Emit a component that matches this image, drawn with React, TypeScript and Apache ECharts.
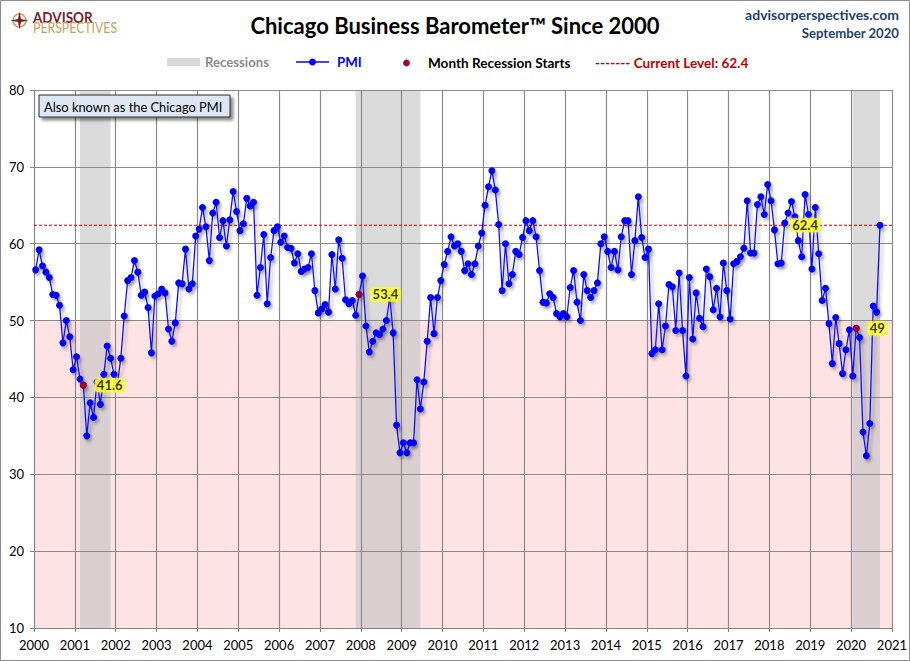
import React, { useEffect, useRef } from "react";
import * as echarts from "echarts";

// ---- data ----
const firstYear = 2000;
const yearTickCount = 21; // 2000 .. 2021
const pmi2000 = [56.6, 59.2, 57.1, 56.3, 55.6, 53.4, 53.3, 52.0, 47.1, 50.0, 47.9, 43.6];
const pmi2001 = [45.3, 42.4, 41.6, 35.0, 39.3, 37.4, 42.0, 39.1, 43.0, 46.7, 45.1, 43.0];
const pmi2002 = [41.8, 45.1, 50.6, 55.2, 55.6, 57.8, 56.3, 53.3, 53.7, 51.7, 45.8, 53.2];
const pmi2003 = [53.5, 54.1, 53.6, 48.9, 47.3, 49.7, 54.9, 54.8, 59.3, 54.1, 54.8, 61.0];
const pmi2004 = [61.9, 64.7, 62.2, 57.8, 64.0, 65.4, 60.8, 63.0, 59.7, 63.1, 66.8, 64.2];
const pmi2005 = [61.7, 62.6, 65.9, 64.9, 65.4, 53.3, 56.9, 61.2, 52.2, 58.2, 61.7, 62.2];
const pmi2006 = [60.2, 61.0, 59.5, 59.4, 57.5, 58.7, 56.4, 56.7, 56.9, 58.7, 53.9, 51.0];
const pmi2007 = [51.5, 52.1, 51.1, 58.6, 54.1, 60.5, 58.1, 52.7, 52.2, 52.6, 50.7, 53.4];
const pmi2008 = [55.8, 49.3, 45.9, 47.3, 48.4, 48.2, 48.9, 50.0, 53.0, 48.4, 36.4, 32.8];
const pmi2009 = [34.1, 32.8, 34.1, 34.1, 42.3, 38.5, 42.0, 47.3, 53.0, 48.3, 53.0, 55.2];
const pmi2010 = [57.3, 59.0, 60.9, 59.7, 60.0, 59.0, 56.5, 57.4, 56.0, 57.4, 59.7, 61.4];
const pmi2011 = [65.0, 67.4, 69.5, 67.0, 62.5, 53.9, 60.0, 54.8, 56.0, 59.0, 58.6, 60.8];
const pmi2012 = [63.0, 61.7, 63.0, 60.9, 56.5, 52.4, 52.3, 53.5, 53.0, 50.9, 50.5, 50.9];
const pmi2013 = [50.5, 54.3, 56.5, 52.4, 50.0, 56.0, 53.9, 53.0, 53.9, 54.9, 60.0, 60.9];
const pmi2014 = [59.0, 56.9, 59.0, 56.6, 60.9, 63.0, 63.0, 56.0, 60.4, 66.1, 60.8, 58.2];
const pmi2015 = [59.3, 45.7, 46.2, 52.2, 46.2, 49.3, 54.7, 54.4, 48.7, 56.2, 48.7, 42.8];
const pmi2016 = [55.6, 47.6, 53.6, 50.3, 49.2, 56.7, 55.7, 51.4, 54.2, 50.5, 57.5, 53.9];
const pmi2017 = [50.2, 57.4, 57.7, 58.3, 59.4, 65.6, 58.8, 58.8, 65.1, 66.1, 63.8, 67.7];
const pmi2018 = [65.6, 61.8, 57.4, 57.5, 62.7, 64.0, 65.5, 63.5, 60.4, 58.3, 66.4, 63.8];
const pmi2019 = [56.7, 64.7, 58.7, 52.6, 54.2, 49.6, 44.4, 50.4, 47.0, 43.1, 46.2, 48.8];
const pmi2020 = [42.8, 49.0, 47.8, 35.5, 32.4, 36.6, 51.9, 51.1, 62.4];

const recessionStarts = ["2001-03", "2007-12", "2020-02"];
const recessionEnds = ["2001-11", "2009-06", "2020-09"];
const contractionFloor = 10;
const contractionCeiling = 50;
const currentLevel = 62.4;
const currentLevelLabelMonth = "2018-11";

// ---- helpers ----
const pmi = [
  ...pmi2000, ...pmi2001, ...pmi2002, ...pmi2003, ...pmi2004, ...pmi2005, ...pmi2006,
  ...pmi2007, ...pmi2008, ...pmi2009, ...pmi2010, ...pmi2011, ...pmi2012, ...pmi2013,
  ...pmi2014, ...pmi2015, ...pmi2016, ...pmi2017, ...pmi2018, ...pmi2019, ...pmi2020,
];
const monthIndex = (ym: string) => {
  const [y, m] = ym.split("-").map(Number);
  return (y - firstYear) * 12 + (m - 1);
};
const monthX = (i: number) => i + 0.5; // plot each month mid-month

const FONT = "Lato, 'Open Sans', sans-serif";

export default function App() {
  const ref = useRef<HTMLDivElement>(null);

  useEffect(() => {
    document.body.style.margin = "0";
    const chart = echarts.init(ref.current!, undefined, { renderer: "svg" });

    const axisMax = yearTickCount * 12;
    const pmiData = pmi.map((v, i) => [monthX(i), v]);
    const startDots = recessionStarts.map((s) => {
      const i = monthIndex(s);
      return [monthX(i), pmi[i]];
    });
    const recessionAreas = recessionStarts.map((s, k) => [
      { xAxis: monthIndex(s) - 0.5, itemStyle: { color: "rgba(196,196,196,0.62)" } },
      { xAxis: monthIndex(recessionEnds[k]) + 0.5 },
    ]);

    const labelStyle = {
      show: true,
      color: "#000",
      fontFamily: FONT,
      fontWeight: "bold" as const,
      fontSize: 13,
      backgroundColor: "#ffff33",
      padding: [1, 2, 0, 2],
      borderRadius: 3,
      shadowColor: "rgba(255,255,0,0.8)",
      shadowBlur: 3,
    };

    const option: any = {
      animation: false,
      grid: { left: 34, right: 17, top: 90, bottom: 33 },
      xAxis: {
        type: "value",
        min: 0,
        max: axisMax,
        interval: 12,
        z: 3,
        axisLine: { show: true, lineStyle: { color: "#858585", width: 1 } },
        axisTick: { show: true, length: 4, lineStyle: { color: "#858585" } },
        axisLabel: {
          color: "#000",
          fontFamily: FONT,
          fontSize: 13,
          margin: 10,
          formatter: (v: number) => String(firstYear + Math.round(v / 12)),
        },
        splitLine: { show: true, lineStyle: { color: "#8a8a8a", width: 1.2 } },
      },
      yAxis: {
        type: "value",
        min: 10,
        max: 80,
        interval: 10,
        z: 3,
        axisLine: { show: true, lineStyle: { color: "#858585", width: 1 } },
        axisTick: { show: true, length: 4, lineStyle: { color: "#858585" } },
        axisLabel: { color: "#000", fontFamily: FONT, fontSize: 13, margin: 10 },
        splitLine: { show: true, lineStyle: { color: "#8a8a8a", width: 1.2 } },
      },
      series: [
        {
          type: "line",
          name: "shading",
          z: 1,
          silent: true,
          data: [[0, contractionFloor]],
          showSymbol: false,
          lineStyle: { width: 0, opacity: 0 },
          markArea: {
            silent: true,
            label: { show: false },
            data: [
              [
                { yAxis: contractionFloor, itemStyle: { color: "#ffe3e4" } },
                { yAxis: contractionCeiling },
              ],
              ...recessionAreas,
            ],
          },
        },
        {
          type: "line",
          name: "Current Level",
          z: 4,
          silent: true,
          data: [[0, currentLevel], [axisMax, currentLevel]],
          showSymbol: false,
          symbol: "none",
          itemStyle: { color: "#c00000" },
          lineStyle: { color: "#c00000", type: [3, 2], width: 1.1 },
        },
        {
          type: "line",
          name: "PMI",
          z: 5,
          data: pmiData,
          symbol: "circle",
          symbolSize: 7,
          showSymbol: true,
          itemStyle: {
            color: "#0000ff",
            shadowColor: "rgba(0,0,0,0.25)",
            shadowBlur: 3,
            shadowOffsetX: 2,
            shadowOffsetY: 3,
          },
          lineStyle: {
            color: "#1010ff",
            width: 1.3,
            shadowColor: "rgba(0,0,0,0.28)",
            shadowBlur: 3,
            shadowOffsetX: 3,
            shadowOffsetY: 3,
          },
        },
        {
          type: "scatter",
          name: "Month Recession Starts",
          z: 6,
          data: startDots,
          symbolSize: 7,
          itemStyle: { color: "#c00000" },
          label: {
            ...labelStyle,
            position: "right",
            distance: 8,
            formatter: (p: any) => String(p.value[1]),
          },
        },
        {
          type: "scatter",
          name: "Current Level label",
          z: 6,
          data: [[monthX(monthIndex(currentLevelLabelMonth)), currentLevel]],
          symbolSize: 1,
          itemStyle: { color: "rgba(0,0,0,0)" },
          label: {
            ...labelStyle,
            position: "inside",
            formatter: () => currentLevel.toFixed(1),
          },
        },
      ],
      graphic: [
        {
          type: "rect",
          shape: { x: 0.5, y: 0.5, width: 909, height: 660 },
          style: { fill: "none", stroke: "#8c8c8c", lineWidth: 1 },
          z: 100,
        },
        // logo
        {
          type: "circle",
          shape: { cx: 19.5, cy: 20.5, r: 6.5 },
          style: { fill: "none", stroke: "#c9a35e", lineWidth: 1.6 },
        },
        {
          type: "polygon",
          shape: {
            points: [
              [19.5, 11.5], [21, 19], [28.5, 20.5], [21, 22], [19.5, 29.5], [18, 22], [10.5, 20.5], [18, 19],
            ],
          },
          style: { fill: "#7b1c2c" },
        },
        {
          type: "text",
          x: 33,
          y: 17,
          scaleX: 0.9,
          style: { text: "ADVISOR", font: `bold 15px ${FONT}`, fill: "#7b1c2c", textVerticalAlign: "middle" },
        },
        {
          type: "text",
          x: 33,
          y: 27,
          scaleX: 0.82,
          style: { text: "PERSPECTIVES", font: `15px ${FONT}`, fill: "#c6a05b", textVerticalAlign: "middle" },
        },
        // title
        {
          type: "text",
          x: 455,
          y: 25,
          style: {
            text: "Chicago Business Barometer™ Since 2000",
            font: `bold 22px ${FONT}`,
            fill: "#000",
            textAlign: "center",
            textVerticalAlign: "middle",
          },
        },
        {
          type: "text",
          x: 899,
          y: 14,
          style: {
            text: "advisorperspectives.com",
            font: `bold 14px ${FONT}`,
            fill: "#243f73",
            textAlign: "right",
            textVerticalAlign: "middle",
          },
        },
        {
          type: "text",
          x: 899,
          y: 33,
          scaleX: 0.94,
          style: {
            text: "September 2020",
            font: `bold 14px ${FONT}`,
            fill: "#243f73",
            textAlign: "right",
            textVerticalAlign: "middle",
          },
        },
        // legend
        {
          type: "rect",
          shape: { x: 167, y: 58, width: 33, height: 8 },
          style: { fill: "#d9d9d9" },
        },
        {
          type: "text",
          x: 205,
          y: 62,
          scaleX: 0.94,
          style: { text: "Recessions", font: `bold 14px ${FONT}`, fill: "#8a8a8a", textVerticalAlign: "middle" },
        },
        {
          type: "line",
          shape: { x1: 296, y1: 62, x2: 329, y2: 62 },
          style: { stroke: "#0000ff", lineWidth: 1.3 },
        },
        {
          type: "circle",
          shape: { cx: 312.5, cy: 62, r: 3.5 },
          style: { fill: "#0000ff" },
        },
        {
          type: "text",
          x: 337,
          y: 62,
          scaleX: 0.95,
          style: { text: "PMI", font: `bold 14px ${FONT}`, fill: "#0000ff", textVerticalAlign: "middle" },
        },
        {
          type: "circle",
          shape: { cx: 406.5, cy: 63, r: 3.2 },
          style: { fill: "#c00000", stroke: "#3030a0", lineWidth: 0.6 },
        },
        {
          type: "text",
          x: 428,
          y: 62,
          scaleX: 0.97,
          style: { text: "Month Recession Starts", font: `bold 14px ${FONT}`, fill: "#000", textVerticalAlign: "middle" },
        },
        {
          type: "text",
          x: 595,
          y: 62,
          scaleX: 0.97,
          style: {
            text: "------- Current Level: 62.4",
            font: `bold 14px ${FONT}`,
            fill: "#c00000",
            textVerticalAlign: "middle",
          },
        },
        // annotation box
        {
          type: "rect",
          shape: { x: 39, y: 95, width: 191, height: 22 },
          style: {
            fill: "#dde7f3",
            stroke: "#2a2a2a",
            lineWidth: 1,
            shadowColor: "rgba(0,0,0,0.45)",
            shadowBlur: 3,
            shadowOffsetX: 3,
            shadowOffsetY: 3,
          },
          z: 50,
        },
        {
          type: "text",
          x: 44,
          y: 106.5,
          scaleX: 0.92,
          z: 51,
          style: {
            text: "Also known as the Chicago PMI",
            font: `14px ${FONT}`,
            fill: "#000",
            textVerticalAlign: "middle",
          },
        },
      ],
    };

    chart.setOption(option);
    return () => chart.dispose();
  }, []);

  return <div ref={ref} style={{ width: 910, height: 661, background: "#fff" }} />;
}
